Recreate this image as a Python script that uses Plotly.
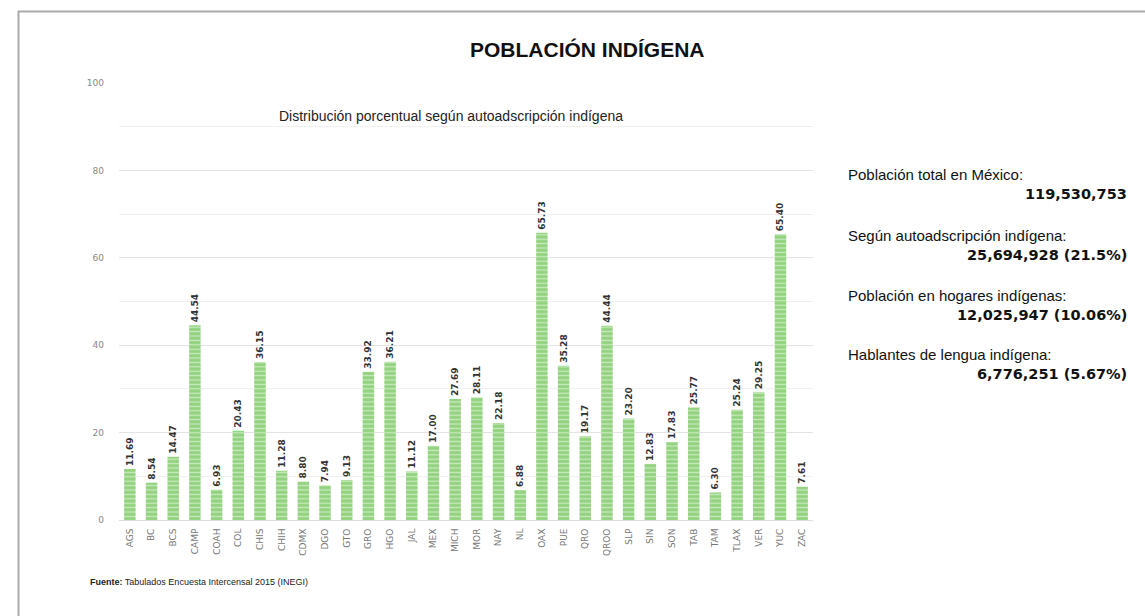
import plotly.graph_objects as go

estados = ["AGS", "BC", "BCS", "CAMP", "COAH", "COL", "CHIS", "CHIH", "CDMX", "DGO", "GTO",
           "GRO", "HGO", "JAL", "MEX", "MICH", "MOR", "NAY", "NL", "OAX", "PUE", "QRO",
           "QROO", "SLP", "SIN", "SON", "TAB", "TAM", "TLAX", "VER", "YUC", "ZAC"]
porcentajes = [11.69, 8.54, 14.47, 44.54, 6.93, 20.43, 36.15, 11.28, 8.80, 7.94, 9.13,
               33.92, 36.21, 11.12, 17.00, 27.69, 28.11, 22.18, 6.88, 65.73, 35.28, 19.17,
               44.44, 23.20, 12.83, 17.83, 25.77, 6.30, 25.24, 29.25, 65.40, 7.61]

info_labels = ["Población total en México:", "Según autoadscripción indígena:",
               "Población en hogares indígenas:", "Hablantes de lengua indígena:"]
info_values = ["119,530,753", "25,694,928 (21.5%)", "12,025,947 (10.06%)", "6,776,251 (5.67%)"]

W, H = 1145, 616
L, R, T, B = 119, 813, 83, 520


def px(x):
    return (x - L) / (R - L)


def py(y):
    return (B - y) / (B - T)


fig = go.Figure()
fig.add_trace(go.Bar(
    x=estados, y=porcentajes,
    text=[f"<b>{v:.2f}</b>" for v in porcentajes],
    textposition="outside", textangle=-90, cliponaxis=False, constraintext="none",
    textfont=dict(family="DejaVu Sans", size=9, color="#333333"),
    marker=dict(color="#92d27e", line=dict(width=0),
                pattern=dict(shape="-", fgcolor="#ffffff", bgcolor="#92d27e",
                             size=4.4, solidity=0.3)),
    hoverinfo="x+y",
))

fig.update_layout(
    width=W, height=H,
    margin=dict(l=L, r=W - R, t=T, b=H - B),
    paper_bgcolor="white", plot_bgcolor="white",
    showlegend=False, bargap=0.47,
    font=dict(family="Liberation Sans", color="#222"),
    xaxis=dict(range=[-0.5, len(estados) - 0.5], tickangle=-90, showgrid=False,
               tickfont=dict(family="DejaVu Sans", size=9, color="#777777"),
               showline=True, linecolor="#dddddd", ticks="", ticklabelstandoff=4),
    yaxis=dict(range=[0, 100], dtick=20, showgrid=True, gridcolor="#e3e3e3",
               gridwidth=1, zeroline=False, ticks="",
               tickfont=dict(family="DejaVu Sans", size=9, color="#888888"),
               ticklabelstandoff=14,
               minor=dict(dtick=10, showgrid=True, gridcolor="#f0f0f0", gridwidth=1)),
)

annotations = [
    dict(text="<b>POBLACIÓN INDÍGENA</b>", x=px(587), y=py(50), xanchor="center",
         yanchor="middle", font=dict(size=21, color="#111", family="Liberation Sans")),
    dict(text="Distribución porcentual según autoadscripción indígena", x=px(451), y=py(116),
         xanchor="center", yanchor="middle", font=dict(size=14, color="#222")),
    dict(text="<b>Fuente:</b> Tabulados Encuesta Intercensal 2015 (INEGI)", x=px(88), y=py(582),
         xanchor="left", yanchor="middle", font=dict(size=9, color="#222")),
]
label_y = [174, 235, 295, 354]
for lab, val, yy in zip(info_labels, info_values, label_y):
    annotations.append(dict(text=lab, x=px(846), y=py(yy), xanchor="left", yanchor="middle",
                            font=dict(size=15, color="#111", family="Liberation Sans")))
    annotations.append(dict(text=f"<b>{val}</b>", x=px(1129), y=py(yy + 20), xanchor="right",
                            yanchor="middle", font=dict(size=14.5, color="#111", family="DejaVu Sans")))
for a in annotations:
    a.update(xref="paper", yref="paper", showarrow=False)
fig.update_layout(annotations=annotations)

fig.update_layout(shapes=[
    dict(type="line", xref="paper", yref="paper", x0=px(18), x1=px(1145), y0=py(11.5), y1=py(11.5),
         line=dict(color="#aaaaaa", width=2)),
    dict(type="line", xref="paper", yref="paper", x0=px(18.5), x1=px(18.5), y0=py(11), y1=py(616),
         line=dict(color="#aaaaaa", width=2)),
])

fig.write_html("out.html")
